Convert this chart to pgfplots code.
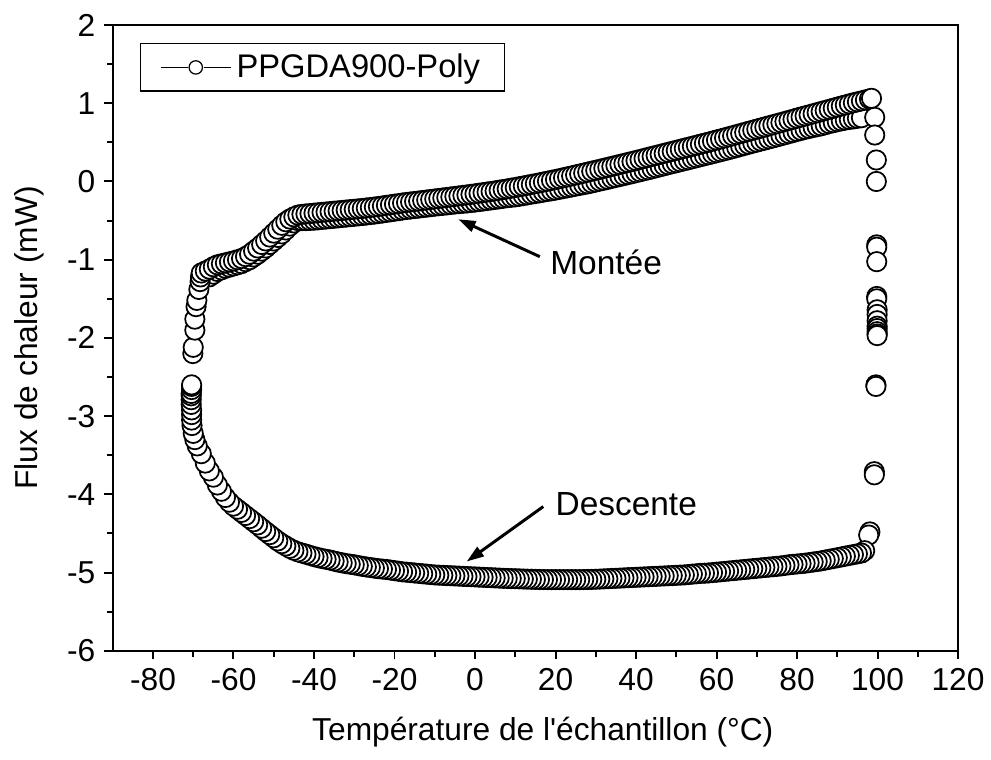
\documentclass[border=0pt]{standalone}
\usepackage{fontspec}
\setmainfont{Liberation Sans}
\usepackage{pgfplots}
\pgfplotsset{compat=1.18}
\usetikzlibrary{arrows.meta}

\pgfplotsset{circ/.style={only marks, mark=*, mark size=3.9pt,
  mark options={fill=white, draw=black, line width=0.7pt}, forget plot}}

\begin{document}
\begin{tikzpicture}
\useasboundingbox (-45.5pt,-44pt) rectangle (354.5pt,262.7pt);
\begin{axis}[
  at={(0pt,0pt)}, anchor=south west,
  scale only axis, width=341.2pt, height=252.6pt,
  xmin=-90, xmax=120, ymin=-6, ymax=2,
  xtick={-80,-60,...,120}, ytick={-6,-5,...,2},
  minor x tick num=1, minor y tick num=1,
  tick align=outside, xtick pos=bottom, ytick pos=left,
  major tick length=3.5pt, minor tick length=2.3pt,
  axis line style={line width=0.8pt},
  every tick/.style={line width=0.8pt, black},
  font=\fontsize{12.8pt}{15pt}\selectfont,
  /pgf/number format/assume math mode=true,
  every axis x label/.style={at={([yshift=-33pt,xshift=3pt]axis description cs:0.5,0)}, anchor=center},
  every axis y label/.style={at={([xshift=-33.5pt]axis description cs:0,0.5)}, anchor=center, rotate=90},
  xlabel={Température de l\textquotesingle échantillon (°C)},
  ylabel={Flux de chaleur (mW)},
  legend style={at={(axis description cs:0.032,0.971)}, anchor=north west,
    draw=black, line width=0.5pt, inner xsep=8pt, inner ysep=2pt,
    nodes={inner sep=2pt}, font=\fontsize{13.2pt}{15pt}\selectfont},
  legend cell align=left,
]
\addlegendimage{legend image code/.code={
  \draw[black, line width=0.5pt] (0pt,0pt) -- (10.8pt,0pt);
  \draw[black, line width=0.5pt] (17.4pt,0pt) -- (28.3pt,0pt);
  \draw[black, line width=0.5pt, fill=white] (14.1pt,0pt) circle (2.7pt);}}
\addlegendentry{PPGDA900-Poly}

% Descente (cooling)
\addplot[circ] coordinates {
(98.1,-4.48)(97.8,-4.52)(96.8,-4.72)
(96,-4.75)(95,-4.76)(94,-4.77)(93,-4.78)(92,-4.79)(91,-4.80)(90,-4.81)(89,-4.82)(88,-4.83)(87,-4.84)(86,-4.85)(85,-4.858)(84,-4.865)(83,-4.872)(82,-4.88)(81,-4.885)(80,-4.89)(79,-4.895)(78,-4.90)(77,-4.908)(76,-4.915)(75,-4.92)(74,-4.925)(73,-4.93)(72,-4.935)(71,-4.94)(70,-4.945)(69,-4.95)(68,-4.955)(67,-4.96)(66,-4.965)(65,-4.97)(64,-4.975)(63,-4.98)(62,-4.985)(61,-4.99)(60,-4.995)(59,-5.0)(58,-5.005)(57,-5.008)(56,-5.01)(55,-5.015)(54,-5.02)(53,-5.025)(52,-5.03)(51,-5.032)(50,-5.035)(49,-5.038)(48,-5.04)(47,-5.043)(46,-5.045)(45,-5.048)(44,-5.05)(43,-5.053)(42,-5.055)(41,-5.058)(40,-5.06)(39,-5.063)(38,-5.065)(37,-5.068)(36,-5.07)(35,-5.073)(34,-5.075)(33,-5.078)(32,-5.08)(31,-5.083)(30,-5.085)(29,-5.087)(28,-5.088)(27,-5.089)(26,-5.09)(25,-5.09)(24,-5.09)(23,-5.09)(22,-5.09)(21,-5.09)(20,-5.09)(19,-5.09)(18,-5.09)(17,-5.089)(16,-5.088)(15,-5.087)(14,-5.085)(13,-5.084)(12,-5.082)(11,-5.08)(10,-5.078)(9,-5.077)(8,-5.075)(7,-5.073)(6,-5.07)(5,-5.068)(4,-5.065)(3,-5.063)(2,-5.06)(1,-5.058)(0,-5.055)
(-1,-5.053)(-2,-5.05)(-3,-5.048)(-4,-5.045)(-5,-5.043)(-6,-5.04)(-7,-5.038)(-8,-5.035)(-9,-5.033)(-10,-5.03)(-11,-5.025)(-12,-5.02)(-13,-5.015)(-14,-5.01)(-15,-5.005)(-16,-5.0)(-17,-4.995)(-18,-4.99)(-19,-4.983)(-20,-4.975)(-21,-4.968)(-22,-4.96)(-23,-4.955)(-24,-4.95)(-25,-4.943)(-26,-4.935)(-27,-4.928)(-28,-4.92)(-29,-4.91)(-30,-4.90)(-31,-4.893)(-32,-4.885)(-33,-4.875)(-34,-4.865)(-35,-4.853)(-36,-4.84)(-37,-4.83)(-38,-4.82)(-39,-4.808)(-40,-4.795)(-41,-4.78)(-42,-4.765)(-43,-4.75)(-44,-4.735)(-45,-4.715)(-46,-4.69)(-47,-4.66)(-48,-4.63)(-49,-4.595)(-50,-4.555)(-51,-4.515)(-52,-4.475)(-53,-4.433)(-54,-4.39)(-55,-4.35)(-56,-4.31)(-57,-4.27)(-58,-4.23)(-59,-4.19)(-60,-4.15)(-61,-4.1)(-62,-4.04)(-63,-3.96)(-64,-3.88)(-65,-3.78)(-66,-3.70)(-67,-3.60)(-68,-3.48)(-69,-3.38)(-69.6,-3.30)(-70,-3.22)(-70.3,-3.12)(-70.4,-3.05)(-70.4,-2.98)(-70.4,-2.92)(-70.5,-2.85)(-70.5,-2.79)(-70.5,-2.74)(-70.5,-2.71)(-70.4,-2.66)(-70.4,-2.62)(-70.4,-2.60)
};

% Montee, second band
\addplot[circ] coordinates {
(-66,-1.22)(-65,-1.185)(-64,-1.15)(-63,-1.13)(-62,-1.11)(-61,-1.095)(-60,-1.08)(-59,-1.065)(-58,-1.05)(-57,-1.025)(-56,-1.0)(-55,-0.965)(-54,-0.93)(-53,-0.89)(-52,-0.85)(-51,-0.805)(-50,-0.76)(-49,-0.715)(-48,-0.67)(-47,-0.62)(-46,-0.57)(-45,-0.53)(-44,-0.50)(-43,-0.50)(-42,-0.50)(-41,-0.498)(-40,-0.495)(-39,-0.49)(-38,-0.485)(-37,-0.48)(-36,-0.475)(-35,-0.47)(-34,-0.465)(-33,-0.46)(-32,-0.455)(-31,-0.45)(-30,-0.445)(-29,-0.44)(-28,-0.435)(-27,-0.429)(-26,-0.423)(-25,-0.417)(-24,-0.41)(-23,-0.403)(-22,-0.395)(-21,-0.388)(-20,-0.38)(-19,-0.373)(-18,-0.365)(-17,-0.358)(-16,-0.352)(-15,-0.346)(-14,-0.34)(-13,-0.334)(-12,-0.328)(-11,-0.322)(-10,-0.316)(-9,-0.31)(-8,-0.305)(-7,-0.3)(-6,-0.294)(-5,-0.288)(-4,-0.283)(-3,-0.279)(-2,-0.275)(-1,-0.269)
(0,-0.263)(1,-0.257)(2,-0.25)(3,-0.243)(4,-0.236)(5,-0.229)(6,-0.222)(7,-0.215)(8,-0.207)(9,-0.202)(10,-0.197)(11,-0.189)(12,-0.18)(13,-0.171)(14,-0.162)(15,-0.154)(16,-0.145)(17,-0.136)(18,-0.127)(19,-0.119)(20,-0.11)(21,-0.1)(22,-0.09)(23,-0.08)(24,-0.07)(25,-0.06)(26,-0.05)(27,-0.04)(28,-0.03)(29,-0.019)(30,-0.007)(31,0.005)(32,0.016)(33,0.028)(34,0.04)(35,0.052)(36,0.064)(37,0.076)(38,0.088)(39,0.1)(40,0.113)(41,0.125)(42,0.138)(43,0.15)(44,0.163)(45,0.176)(46,0.189)(47,0.202)(48,0.215)(49,0.228)(50,0.24)(51,0.253)(52,0.266)(53,0.278)(54,0.291)(55,0.304)(56,0.317)(57,0.33)(58,0.342)(59,0.355)(60,0.368)(61,0.381)(62,0.394)(63,0.407)(64,0.42)(65,0.434)(66,0.448)(67,0.462)(68,0.476)(69,0.49)(70,0.503)(71,0.517)(72,0.53)(73,0.544)(74,0.557)(75,0.571)(76,0.585)(77,0.598)(78,0.612)(79,0.626)(80,0.64)(81,0.653)(82,0.667)(83,0.678)(84,0.69)(85,0.701)(86,0.712)(87,0.726)(88,0.74)(89,0.752)(90,0.765)(91,0.775)(92,0.785)(93,0.793)(94,0.80)(95,0.808)(96,0.815)
};

% Montee, first band
\addplot[circ] coordinates {
(-70.1,-2.20)(-70.0,-2.12)(-69.6,-1.90)(-69.6,-1.76)(-69.3,-1.60)(-69.1,-1.52)(-68.6,-1.38)(-68.3,-1.28)(-68.2,-1.22)
(-68,-1.17)(-67,-1.145)(-66,-1.12)(-65,-1.09)(-64,-1.065)(-63,-1.052)(-62,-1.04)(-61,-1.028)(-60,-1.015)(-59,-1.0)(-58,-0.985)(-57,-0.96)(-56,-0.93)(-55,-0.89)(-54,-0.85)(-53,-0.805)(-52,-0.76)(-51,-0.71)(-50,-0.66)(-49,-0.61)(-48,-0.56)(-47,-0.515)(-46,-0.48)(-45,-0.452)(-44,-0.43)(-43,-0.42)(-42,-0.415)(-41,-0.41)(-40,-0.405)(-39,-0.4)(-38,-0.395)(-37,-0.39)(-36,-0.385)(-35,-0.38)(-34,-0.375)(-33,-0.37)(-32,-0.365)(-31,-0.36)(-30,-0.355)(-29,-0.35)(-28,-0.345)(-27,-0.339)(-26,-0.333)(-25,-0.327)(-24,-0.32)(-23,-0.313)(-22,-0.305)(-21,-0.298)(-20,-0.29)(-19,-0.283)(-18,-0.275)(-17,-0.268)(-16,-0.262)(-15,-0.256)(-14,-0.25)(-13,-0.243)(-12,-0.237)(-11,-0.23)(-10,-0.224)(-9,-0.217)(-8,-0.211)(-7,-0.204)(-6,-0.198)(-5,-0.191)(-4,-0.185)(-3,-0.178)(-2,-0.172)(-1,-0.165)
(0,-0.158)(1,-0.15)(2,-0.143)(3,-0.135)(4,-0.128)(5,-0.12)(6,-0.112)(7,-0.103)(8,-0.095)(9,-0.086)(10,-0.077)(11,-0.067)(12,-0.058)(13,-0.048)(14,-0.038)(15,-0.028)(16,-0.018)(17,-0.007)(18,0.003)(19,0.014)(20,0.025)(21,0.036)(22,0.048)(23,0.059)(24,0.071)(25,0.083)(26,0.095)(27,0.107)(28,0.119)(29,0.131)(30,0.143)(31,0.155)(32,0.168)(33,0.18)(34,0.193)(35,0.205)(36,0.218)(37,0.23)(38,0.243)(39,0.255)(40,0.268)(41,0.281)(42,0.294)(43,0.307)(44,0.32)(45,0.333)(46,0.346)(47,0.359)(48,0.372)(49,0.385)(50,0.398)(51,0.411)(52,0.424)(53,0.437)(54,0.45)(55,0.463)(56,0.476)(57,0.489)(58,0.502)(59,0.516)(60,0.53)(61,0.543)(62,0.557)(63,0.571)(64,0.585)(65,0.599)(66,0.613)(67,0.627)(68,0.641)(69,0.655)(70,0.669)(71,0.683)(72,0.697)(73,0.711)(74,0.725)(75,0.739)(76,0.753)(77,0.767)(78,0.781)(79,0.795)(80,0.81)(81,0.824)(82,0.838)(83,0.852)(84,0.866)(85,0.88)(86,0.894)(87,0.908)(88,0.922)(89,0.936)(90,0.95)(91,0.964)(92,0.978)(93,0.992)(94,1.006)(95,1.018)(96,1.03)(97,1.043)(98,1.055)
};

% isotherm at 100 C
\addplot[circ] coordinates {
(98.5,1.063)(99.3,0.82)(99.3,0.594)(99.7,0.275)(99.7,0.0)(99.8,-0.81)(99.8,-0.84)(99.8,-1.025)(99.8,-1.47)(99.8,-1.50)(99.9,-1.64)(99.9,-1.70)(99.9,-1.78)(99.9,-1.85)(99.9,-1.88)(99.9,-1.92)(99.9,-1.95)(99.9,-1.97)(99.6,-2.60)(99.6,-2.62)(99.2,-3.71)(99.2,-3.75)
};

\draw[line width=1.2pt, -{Triangle[length=7pt,width=4.5pt]}] (axis cs:16.1,-0.961) -- (axis cs:-4.16,-0.483);
\draw[line width=1.2pt, -{Triangle[length=7pt,width=4.5pt]}] (axis cs:16.96,-4.156) -- (axis cs:-2.07,-4.859);
\node[anchor=west, font=\fontsize{13.5pt}{16pt}\selectfont, inner sep=0pt] at (axis cs:18.6,-1.03) {Montée};
\node[anchor=west, font=\fontsize{13.5pt}{16pt}\selectfont, inner sep=0pt] at (axis cs:19.9,-4.12) {Descente};
\end{axis}
\end{tikzpicture}
\end{document}
